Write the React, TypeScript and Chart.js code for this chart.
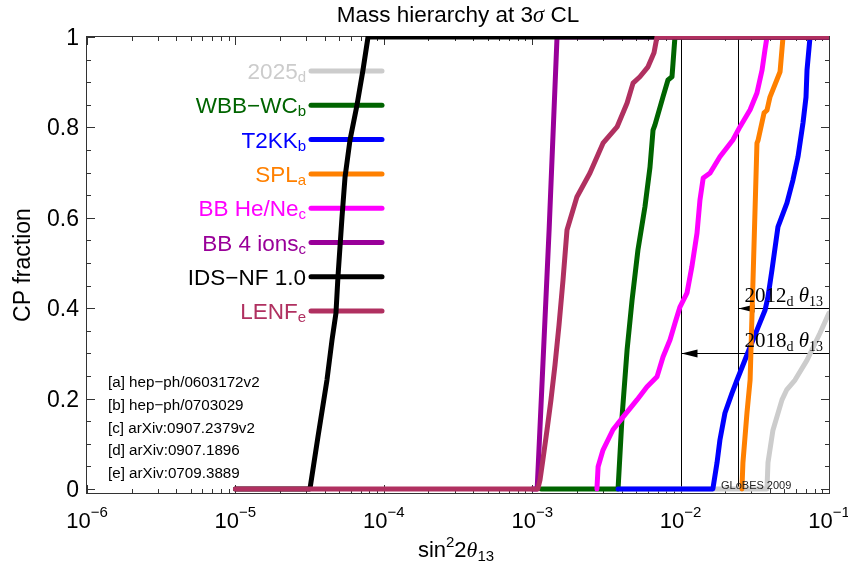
import React, { useEffect, useRef } from 'react';
import { Chart, registerables } from 'chart.js';

Chart.register(...registerables);

// ---------------- data ----------------
const X_TICK_EXPONENTS = [-6, -5, -4, -3, -2, -1];
const Y_TICKS = [0, 0.2, 0.4, 0.6, 0.8, 1];
const Y_TICK_LABELS = ['0', '0.2', '0.4', '0.6', '0.8', '1'];

const X_2025 = [3.8e-3, 3.82e-2, 3.88e-2, 4.19e-2, 4.82e-2, 5.2e-2, 5.9e-2, 7.11e-2, 8.7e-2, 0.1];
const Y_2025 = [0, 0, 0.058, 0.13, 0.197, 0.22, 0.241, 0.285, 0.345, 0.389];

const X_WBB = [1.15e-3, 3.79e-3, 4.03e-3, 4.36e-3, 4.71e-3, 5.16e-3, 5.75e-3, 6.22e-3, 6.52e-3, 6.71e-3, 7.6e-3, 8.22e-3, 8.75e-3, 8.89e-3, 9.16e-3, 0.1];
const Y_WBB = [0, 0, 0.159, 0.308, 0.418, 0.529, 0.624, 0.712, 0.794, 0.805, 0.867, 0.905, 0.912, 0.942, 1, 1];

const X_T2KK = [3.79e-3, 1.65e-2, 1.76e-2, 1.84e-2, 1.99e-2, 2.22e-2, 2.4e-2, 2.94e-2, 3.33e-2, 3.71e-2, 3.88e-2, 4.13e-2, 4.53e-2, 5.21e-2, 5.72e-2, 6.18e-2, 6.68e-2, 7.0e-2, 7.11e-2, 7.45e-2, 0.1];
const Y_T2KK = [0, 0, 0.058, 0.108, 0.168, 0.212, 0.241, 0.314, 0.358, 0.396, 0.425, 0.485, 0.58, 0.633, 0.684, 0.735, 0.81, 0.867, 0.927, 1, 1];

const X_SPL = [2.59e-2, 2.63e-2, 2.8e-2, 2.94e-2, 3.08e-2, 3.27e-2, 3.33e-2, 3.65e-2, 3.82e-2, 4.0e-2, 4.68e-2, 4.9e-2, 0.1];
const Y_SPL = [0, 0.058, 0.168, 0.241, 0.469, 0.765, 0.772, 0.832, 0.838, 0.867, 0.923, 1, 1];

const X_BBHENE = [2.73e-3, 2.78e-3, 3.0e-3, 3.5e-3, 4.09e-3, 5.08e-3, 5.94e-3, 6.93e-3, 7.61e-3, 8.49e-3, 9.17e-3, 9.91e-3, 1.105e-2, 1.19e-2, 1.29e-2, 1.35e-2, 1.42e-2, 1.58e-2, 1.84e-2, 2.25e-2, 2.51e-2, 2.94e-2, 3.27e-2, 3.54e-2, 3.7e-2, 3.82e-2, 0.1];
const Y_BBHENE = [0, 0.049, 0.086, 0.131, 0.159, 0.197, 0.226, 0.248, 0.292, 0.33, 0.367, 0.403, 0.434, 0.491, 0.566, 0.639, 0.688, 0.699, 0.735, 0.772, 0.801, 0.839, 0.876, 0.927, 0.971, 1, 1];

const X_BB4 = [1.0e-3, 1.08e-3, 1.3e-3, 1.47e-3, 0.1];
const Y_BB4 = [0, 0, 0.573, 1, 1];

const X_IDS = [1e-5, 3.18e-5, 3.6e-5, 4.14e-5, 4.48e-5, 4.76e-5, 4.91e-5, 5.23e-5, 5.48e-5, 5.92e-5, 6.57e-5, 7.24e-5, 7.83e-5, 0.1];
const Y_IDS = [0, 0, 0.115, 0.241, 0.33, 0.389, 0.469, 0.602, 0.69, 0.772, 0.846, 0.927, 1, 1];

const X_LENF = [1e-5, 1.09e-3, 1.129e-3, 1.18e-3, 1.258e-3, 1.338e-3, 1.424e-3, 1.516e-3, 1.613e-3, 1.716e-3, 2.0e-3, 2.45e-3, 3.0e-3, 3.73e-3, 4.36e-3, 4.78e-3, 5.32e-3, 6.03e-3, 6.62e-3, 6.93e-3, 0.1];
const Y_LENF = [0, 0, 0.02, 0.064, 0.13, 0.197, 0.274, 0.363, 0.462, 0.573, 0.646, 0.699, 0.765, 0.801, 0.854, 0.898, 0.912, 0.934, 0.965, 1, 1];

const LEGEND_LABELS = ['2025', 'WBB\u2212WC', 'T2KK', 'SPL', 'BB He/Ne', 'BB 4 ions', 'IDS\u2212NF 1.0', 'LENF'];
const LEGEND_SUBS = ['d', 'b', 'b', 'a', 'c', 'c', '', 'e'];
const LEGEND_COLORS = ['#cccccc', '#006400', '#0000ff', '#ff8000', '#ff00ff', '#990099', '#000000', '#b03060'];

const REFERENCES = [
  '[a] hep\u2212ph/0603172v2',
  '[b] hep\u2212ph/0703029',
  '[c] arXiv:0907.2379v2',
  '[d] arXiv:0907.1896',
  '[e] arXiv:0709.3889',
];

// sensitivity markers: x position of vertical line, y of arrow, label year
const MARK_X = [0.0245, 0.01];
const MARK_Y = [0.4, 0.3];
const MARK_YEARS = ['2012', '2018'];

const SANS = '"Liberation Sans", Arial, Helvetica, sans-serif';
const SERIF = '"Liberation Serif", "Times New Roman", serif';

type Part = { t: string; font: string; dy?: number };

function partsWidth(ctx: CanvasRenderingContext2D, parts: Part[]) {
  let w = 0;
  for (const p of parts) {
    ctx.font = p.font;
    w += ctx.measureText(p.t).width;
  }
  return w;
}

function drawParts(
  ctx: CanvasRenderingContext2D,
  parts: Part[],
  x: number,
  y: number,
  align: 'left' | 'center' | 'right',
  color: string
) {
  const w = partsWidth(ctx, parts);
  let cx = align === 'left' ? x : align === 'center' ? x - w / 2 : x - w;
  ctx.textAlign = 'left';
  ctx.textBaseline = 'alphabetic';
  ctx.fillStyle = color;
  for (const p of parts) {
    ctx.font = p.font;
    ctx.fillText(p.t, cx, y + (p.dy || 0));
    cx += ctx.measureText(p.t).width;
  }
}

function seg(ctx: CanvasRenderingContext2D, x1: number, y1: number, x2: number, y2: number) {
  ctx.beginPath();
  ctx.moveTo(x1, y1);
  ctx.lineTo(x2, y2);
  ctx.stroke();
}

const LEG_TEXT_RIGHT = 306;
const LEG_SEG_X1 = 311;
const LEG_SEG_X2 = 382;
const LEG_Y0 = 71;
const LEG_DY = 34.3;

const decor = {
  id: 'decor',
  beforeDatasetsDraw(chart: any) {
    const { ctx, chartArea: a, scales } = chart;
    const xs = scales.x;
    const ys = scales.y;
    ctx.save();
    // frame
    ctx.strokeStyle = '#333';
    ctx.lineWidth = 1;
    ctx.strokeRect(a.left - 0.5, a.top - 0.5, a.right - a.left + 1, a.bottom - a.top + 1);
    // x ticks (inward, both sides)
    for (let i = 0; i < X_TICK_EXPONENTS.length; i++) {
      const e = X_TICK_EXPONENTS[i];
      for (let m = 1; m <= 9; m++) {
        const v = m * Math.pow(10, e);
        if (v > xs.max * 1.0001) break;
        const px = Math.round(xs.getPixelForValue(v)) + 0.5;
        const len = m === 1 ? 8 : 4;
        seg(ctx, px, a.bottom, px, a.bottom - len);
        seg(ctx, px, a.top, px, a.top + len);
      }
    }
    // y ticks
    for (let k = 0; k <= 20; k++) {
      const v = k * 0.05;
      const py = Math.round(ys.getPixelForValue(v)) + 0.5;
      const len = k % 4 === 0 ? 8 : 4;
      seg(ctx, a.left, py, a.left + len, py);
      seg(ctx, a.right, py, a.right - len, py);
    }
    // sensitivity lines and arrows
    ctx.strokeStyle = '#000';
    ctx.fillStyle = '#000';
    for (let i = 0; i < MARK_X.length; i++) {
      const px = Math.round(xs.getPixelForValue(MARK_X[i])) + 0.5;
      seg(ctx, px, ys.getPixelForValue(0), px, ys.getPixelForValue(1));
      const py = Math.round(ys.getPixelForValue(MARK_Y[i])) + 0.5;
      seg(ctx, px, py, a.right, py);
      ctx.beginPath();
      ctx.moveTo(px, py);
      ctx.lineTo(px + 16, py - 4);
      ctx.lineTo(px + 16, py + 4);
      ctx.closePath();
      ctx.fill();
    }
    // legend segments
    ctx.lineCap = 'round';
    ctx.lineWidth = 5;
    for (let i = 0; i < LEGEND_LABELS.length; i++) {
      const y = LEG_Y0 + i * LEG_DY;
      ctx.strokeStyle = LEGEND_COLORS[i];
      seg(ctx, LEG_SEG_X1, y, LEG_SEG_X2, y);
    }
    ctx.restore();
  },
  afterDatasetsDraw(chart: any) {
    const { ctx, chartArea: a, scales } = chart;
    const xs = scales.x;
    const ys = scales.y;
    ctx.save();
    // legend text
    for (let i = 0; i < LEGEND_LABELS.length; i++) {
      const y = LEG_Y0 + i * LEG_DY;
      const parts: Part[] = [{ t: LEGEND_LABELS[i], font: `22.5px ${SANS}` }];
      if (LEGEND_SUBS[i]) parts.push({ t: LEGEND_SUBS[i], font: `15px ${SANS}`, dy: 3 });
      drawParts(ctx, parts, LEG_TEXT_RIGHT, y + 8, 'right', LEGEND_COLORS[i]);
    }
    // references
    for (let i = 0; i < REFERENCES.length; i++) {
      drawParts(ctx, [{ t: REFERENCES[i], font: `15.2px ${SANS}` }], 108, 387 + i * 22.8, 'left', '#000');
    }
    // GLoBES
    drawParts(ctx, [{ t: 'GLoBES 2009', font: `11px ${SANS}` }], 721, 489, 'left', '#222');
    // sensitivity labels
    for (let i = 0; i < MARK_X.length; i++) {
      const py = ys.getPixelForValue(MARK_Y[i]);
      drawParts(
        ctx,
        [
          { t: MARK_YEARS[i], font: `21px ${SERIF}` },
          { t: 'd', font: `14px ${SERIF}`, dy: 4 },
          { t: ' ', font: `21px ${SERIF}` },
          { t: '\u03b8', font: `italic 21px ${SERIF}` },
          { t: '13', font: `14px ${SERIF}`, dy: 4 },
        ],
        a.right - 6,
        py - 6,
        'right',
        '#000'
      );
    }
    // y tick labels
    for (let i = 0; i < Y_TICKS.length; i++) {
      const py = ys.getPixelForValue(Y_TICKS[i]);
      drawParts(ctx, [{ t: Y_TICK_LABELS[i], font: `23px ${SANS}` }], 79, py + 8, 'right', '#000');
    }
    // x tick labels
    for (let i = 0; i < X_TICK_EXPONENTS.length; i++) {
      const px = xs.getPixelForValue(Math.pow(10, X_TICK_EXPONENTS[i]));
      const ex = X_TICK_EXPONENTS[i] < 0 ? '\u2212' + Math.abs(X_TICK_EXPONENTS[i]) : String(X_TICK_EXPONENTS[i]);
      drawParts(
        ctx,
        [
          { t: '10', font: `22px ${SANS}` },
          { t: ex, font: `15px ${SANS}`, dy: -11 },
        ],
        px,
        528,
        'center',
        '#000'
      );
    }
    // x axis title
    drawParts(
      ctx,
      [
        { t: 'sin', font: `22px ${SANS}` },
        { t: '2', font: `15px ${SANS}`, dy: -10 },
        { t: '2', font: `22px ${SANS}` },
        { t: '\u03b8', font: `italic 22px ${SERIF}` },
        { t: '13', font: `15px ${SANS}`, dy: 4 },
      ],
      (a.left + a.right) / 2 - 2,
      557,
      'center',
      '#000'
    );
    // y axis title
    ctx.save();
    ctx.translate(30, (a.top + a.bottom) / 2);
    ctx.rotate(-Math.PI / 2);
    drawParts(ctx, [{ t: 'CP fraction', font: `23px ${SANS}` }], 0, 0, 'center', '#000');
    ctx.restore();
    // title
    drawParts(
      ctx,
      [
        { t: 'Mass hierarchy at 3', font: `22.5px ${SANS}` },
        { t: '\u03c3', font: `italic 22.5px ${SERIF}` },
        { t: ' CL', font: `22.5px ${SANS}` },
      ],
      (a.left + a.right) / 2,
      22,
      'center',
      '#000'
    );
    ctx.restore();
  },
};

function pts(xsArr: number[], ysArr: number[]) {
  return xsArr.map((x, i) => ({ x, y: ysArr[i] }));
}

export default function App() {
  const ref = useRef<HTMLCanvasElement | null>(null);
  useEffect(() => {
    if (!ref.current) return;
    const clip = { left: 0, top: 1, right: 0, bottom: 5 };
    // first dataset is drawn on top
    const series = [
      { label: 'LENF', x: X_LENF, y: Y_LENF, c: LEGEND_COLORS[7] },
      { label: 'IDS-NF 1.0', x: X_IDS, y: Y_IDS, c: LEGEND_COLORS[6] },
      { label: 'BB 4 ions', x: X_BB4, y: Y_BB4, c: LEGEND_COLORS[5] },
      { label: 'BB He/Ne', x: X_BBHENE, y: Y_BBHENE, c: LEGEND_COLORS[4] },
      { label: 'SPL', x: X_SPL, y: Y_SPL, c: LEGEND_COLORS[3] },
      { label: 'T2KK', x: X_T2KK, y: Y_T2KK, c: LEGEND_COLORS[2] },
      { label: 'WBB-WC', x: X_WBB, y: Y_WBB, c: LEGEND_COLORS[1] },
      { label: '2025', x: X_2025, y: Y_2025, c: LEGEND_COLORS[0] },
    ];
    const chart = new Chart(ref.current, {
      type: 'line',
      data: {
        datasets: series.map((s) => ({
          label: s.label,
          data: pts(s.x, s.y),
          borderColor: s.c,
          backgroundColor: s.c,
          borderWidth: 5,
          pointRadius: 0,
          fill: false,
          tension: 0,
          borderCapStyle: 'round',
          borderJoinStyle: 'round',
          clip,
        })) as any,
      },
      options: {
        animation: false,
        responsive: false,
        devicePixelRatio: 1,
        layout: { padding: { left: 87, right: 19, top: 37, bottom: 72 } },
        plugins: {
          legend: { display: false },
          tooltip: { enabled: false },
          title: { display: false },
        },
        scales: {
          x: { type: 'logarithmic', min: 1e-6, max: 0.1, display: false },
          y: { type: 'linear', min: -0.009, max: 1, display: false },
        },
      } as any,
      plugins: [decor],
    });
    return () => chart.destroy();
  }, []);
  return (
    <div style={{ position: 'fixed', left: 0, top: 0, width: 848, height: 565, background: '#fff' }}>
      <canvas ref={ref} width={848} height={565} style={{ display: 'block', width: 848, height: 565 }} />
    </div>
  );
}
